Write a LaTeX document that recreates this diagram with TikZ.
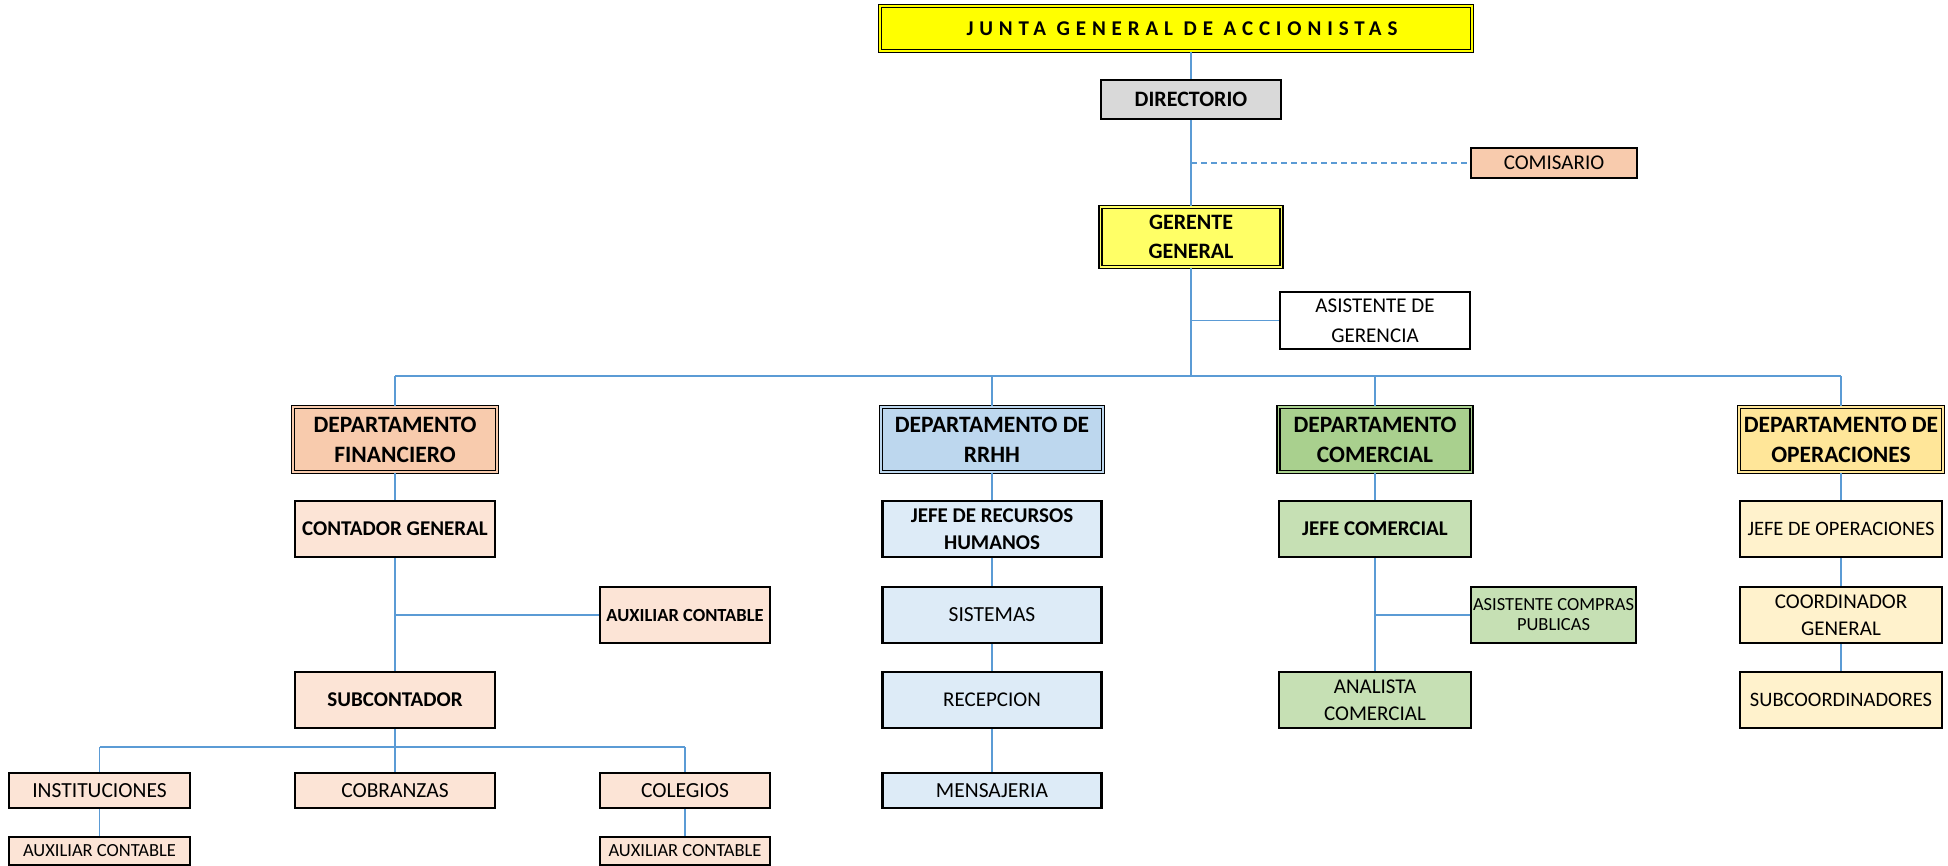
\documentclass[tikz,border=0pt]{standalone}
\usepackage{fontspec}
\setmainfont{Carlito}
\newfontfamily\spaced[LetterSpace=28]{Carlito}
\definecolor{yel}{HTML}{FFFF00}
\definecolor{yelb}{HTML}{FFFF66}
\definecolor{gris}{HTML}{D9D9D9}
\definecolor{sal}{HTML}{F8CBAD}
\definecolor{salb}{HTML}{FCE4D6}
\definecolor{azu}{HTML}{BDD7EE}
\definecolor{azub}{HTML}{DDEBF7}
\definecolor{ver}{HTML}{A9D08E}
\definecolor{verb}{HTML}{C6E0B4}
\definecolor{ama}{HTML}{FFE699}
\definecolor{amab}{HTML}{FFF2CC}
\definecolor{lin}{HTML}{5B9BD5}
\begin{document}
\begin{tikzpicture}[x=1pt,y=-1pt,
    box/.style={draw=black, line width=2.2pt, inner sep=0pt, align=center,
        font=\fontsize{21.5}{27}\selectfont},
    dbl/.style={draw=black, double=#1, double distance=1.5pt, line width=1.4pt,
        fill=#1, inner sep=0pt, align=center},
    sz/.style 2 args={minimum width=#1pt, minimum height=#2pt},
    big/.style={font=\bfseries\fontsize{23.5}{30}\selectfont},
    top/.style={font=\bfseries\fontsize{22}{29}\selectfont},
    bld/.style={font=\bfseries\fontsize{21}{27}\selectfont},
    nrm/.style={font=\fontsize{21}{27}\selectfont},
    sml/.style={font=\fontsize{18.5}{20}\selectfont},
    smb/.style={font=\bfseries\fontsize{18.5}{22}\selectfont},
    ln/.style={draw=lin, line width=1.4pt}]
    \useasboundingbox (0,0) rectangle (1948,866);
    % top of the chart
    \node[dbl=yel, sz={592}{45}, font=\spaced\bfseries\fontsize{21}{26}\selectfont] (jg) at (1176,28.5) {\kern12pt JUNTA GENERAL DE ACCIONISTAS};
    \node[box, fill=gris, sz={180}{39}, top] (dir) at (1191,99.5) {DIRECTORIO};
    \node[box, fill=sal, sz={166}{30}, font=\fontsize{21}{26}\selectfont] (com) at (1554,163) {COMISARIO};
    \node[dbl=yelb, sz={181}{60}, top] (gg) at (1191,237) {GERENTE\\GENERAL};
    \node[box, fill=white, sz={190}{57}, font=\fontsize{21}{30}\selectfont] (ag) at (1375,320.5) {ASISTENTE DE\\GERENCIA};
    \coordinate (b0) at (1191,376);
    % departments
    \node[dbl=sal, sz={204}{65}, big] (df) at (395,439.5) {DEPARTAMENTO\\FINANCIERO};
    \node[dbl=azu, sz={222}{65}, big] (dr) at (992,439.5) {DEPARTAMENTO DE\\RRHH};
    \node[dbl=ver, sz={193}{65}, big] (dc) at (1375,439.5) {DEPARTAMENTO\\COMERCIAL};
    \node[dbl=ama, sz={204}{65}, big] (do) at (1841,439.5) {DEPARTAMENTO DE\\OPERACIONES};
    % financiero
    \node[box, fill=salb, sz={200}{56}, bld] (cg) at (395,529) {CONTADOR GENERAL};
    \node[box, fill=salb, sz={170}{56}, smb] (ac) at (685,615) {AUXILIAR CONTABLE};
    \node[box, fill=salb, sz={200}{56}, bld] (sub) at (395,700) {SUBCONTADOR};
    \coordinate (b1) at (395,747);
    \node[box, fill=salb, sz={181}{35}] (in) at (99.5,790.5) {INSTITUCIONES};
    \node[box, fill=salb, sz={200}{35}] (cb) at (395,790.5) {COBRANZAS};
    \node[box, fill=salb, sz={170}{35}] (cl) at (685,790.5) {COLEGIOS};
    \node[box, fill=salb, sz={181}{28}, sml] (a1) at (99.5,851) {AUXILIAR CONTABLE};
    \node[box, fill=salb, sz={170}{28}, sml] (a2) at (685,851) {AUXILIAR CONTABLE};
    % rrhh
    \node[box, fill=azub, sz={219}{56}, bld] (jr) at (992,529) {JEFE DE RECURSOS\\HUMANOS};
    \node[box, fill=azub, sz={219}{56}] (si) at (992,615) {SISTEMAS};
    \node[box, fill=azub, sz={219}{56}, nrm] (re) at (992,700) {RECEPCION};
    \node[box, fill=azub, sz={219}{35}] (me) at (992,790.5) {MENSAJERIA};
    % comercial
    \node[box, fill=verb, sz={192}{56}, bld] (jc) at (1375,529) {JEFE COMERCIAL};
    \node[box, fill=verb, sz={165}{56}, sml] (acp) at (1553.5,615) {ASISTENTE COMPRAS\\PUBLICAS};
    \node[box, fill=verb, sz={192}{56}, nrm] (an) at (1375,700) {ANALISTA\\COMERCIAL};
    % operaciones
    \node[box, fill=amab, sz={202}{56}, font=\fontsize{20.5}{27}\selectfont] (jo) at (1841,529) {JEFE DE OPERACIONES};
    \node[box, fill=amab, sz={202}{56}, nrm] (co) at (1841,615) {COORDINADOR\\GENERAL};
    \node[box, fill=amab, sz={202}{56}, font=\fontsize{20.5}{27}\selectfont] (sc) at (1841,700) {SUBCOORDINADORES};
    % connectors
    \draw[ln] (jg.south -| dir.north) -- (dir);
    \draw[ln] (dir) -- (gg);
    \draw[ln, dash pattern=on 6pt off 4pt] (com.west -| dir) -- (com.west);
    \draw[ln] (gg) -- (b0);
    \draw[ln] (ag.west -| gg) -- (ag.west);
    \draw[ln, line width=2pt] (df |- b0) -- (do |- b0);
    \draw[ln] (df |- b0) -- (df);
    \draw[ln] (dr |- b0) -- (dr);
    \draw[ln] (dc |- b0) -- (dc);
    \draw[ln] (do |- b0) -- (do);
    \draw[ln] (df) -- (cg);
    \draw[ln] (cg) -- (sub);
    \draw[ln] (ac.west -| cg) -- (ac.west);
    \draw[ln] (sub) -- (cb);
    \draw[ln] (in |- b1) -- (cl |- b1);
    \draw[ln] (in |- b1) -- (in);
    \draw[ln] (cl |- b1) -- (cl);
    \draw[ln] (in) -- (a1);
    \draw[ln] (cl) -- (a2);
    \draw[ln] (dr) -- (jr);
    \draw[ln] (jr) -- (si);
    \draw[ln] (si) -- (re);
    \draw[ln] (re) -- (me);
    \draw[ln] (dc) -- (jc);
    \draw[ln] (jc) -- (an);
    \draw[ln] (acp.west -| jc) -- (acp.west);
    \draw[ln] (do) -- (jo);
    \draw[ln] (jo) -- (co);
    \draw[ln] (co) -- (sc);
\end{tikzpicture}
\end{document}
